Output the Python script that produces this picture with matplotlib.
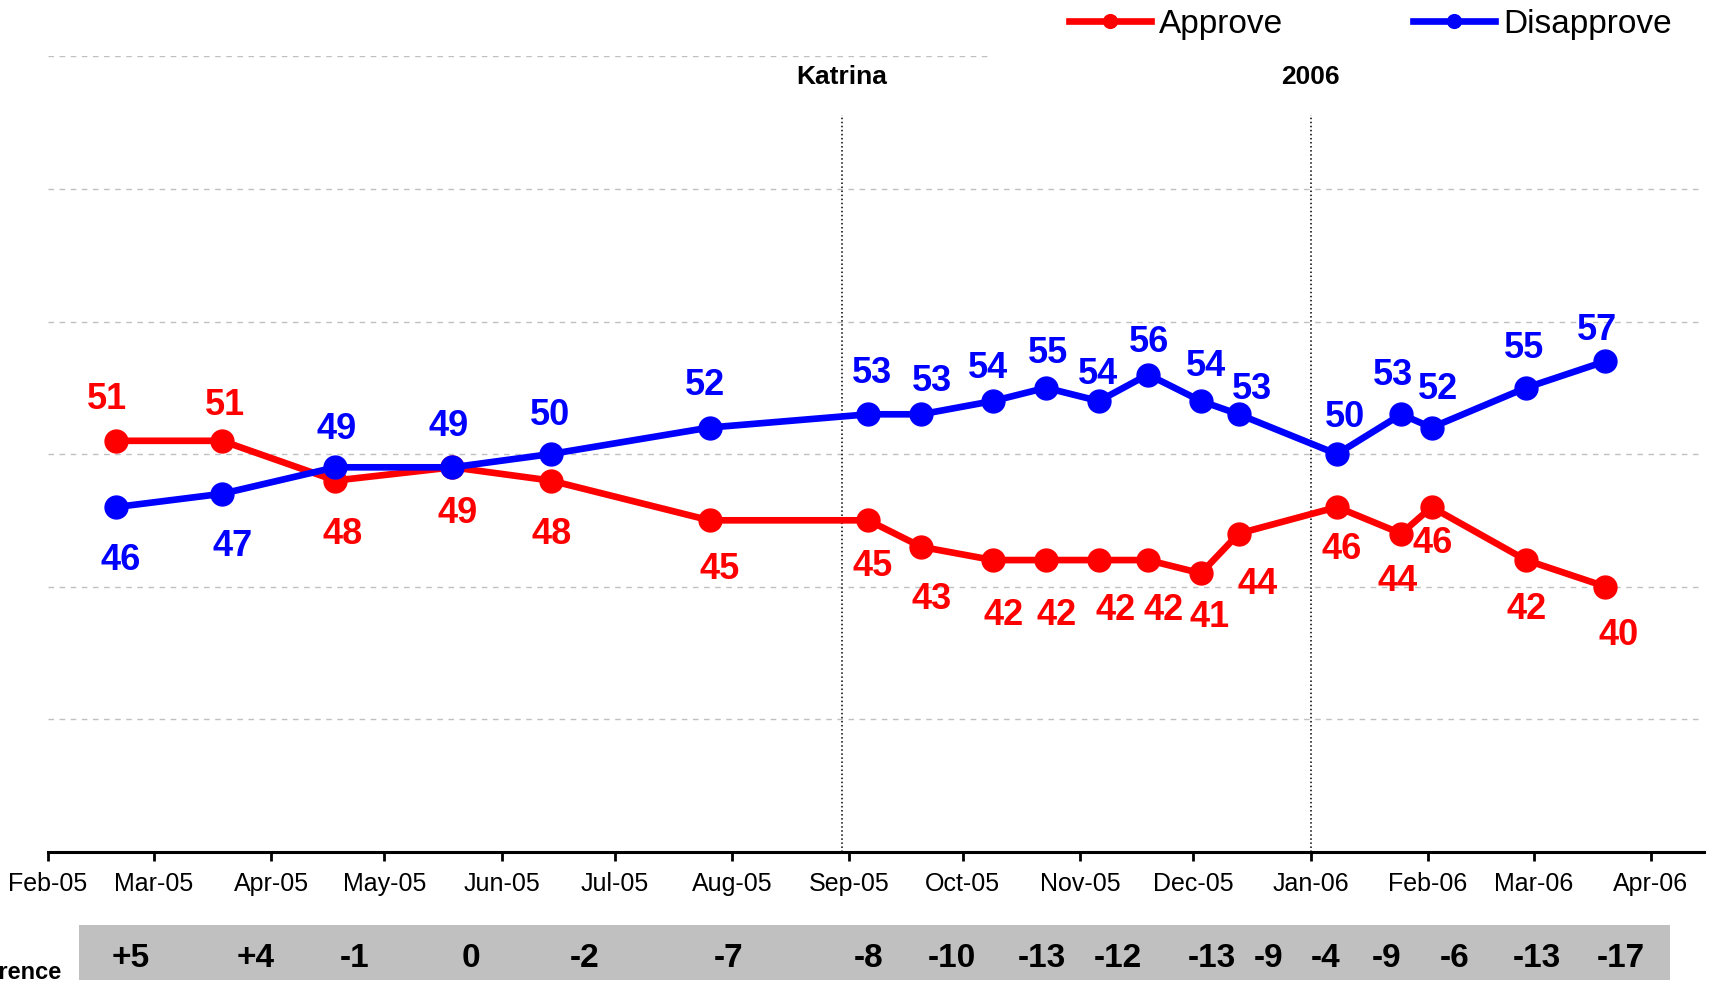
import matplotlib
matplotlib.use("Agg")
import matplotlib.pyplot as plt
import matplotlib.dates as mdates
from matplotlib.patches import Rectangle
from matplotlib.transforms import blended_transform_factory
import pandas as pd

plt.rcParams["font.family"] = ["Liberation Sans", "DejaVu Sans"]

# -------------------------------------------------------------
# Data
# -------------------------------------------------------------

poll_dates = pd.to_datetime([
    "2005-02-19", "2005-03-19", "2005-04-18", "2005-05-19", "2005-06-14",
    "2005-07-26", "2005-09-06", "2005-09-20", "2005-10-09", "2005-10-23",
    "2005-11-06", "2005-11-19", "2005-12-03", "2005-12-13", "2006-01-08",
    "2006-01-25", "2006-02-02", "2006-02-27", "2006-03-20",
])
approve = [51, 51, 48, 49, 48, 45, 45, 43, 42, 42, 42, 42, 41, 44, 46, 44, 46, 42, 40]
disapprove = [46, 47, 49, 49, 50, 52, 53, 53, 54, 55, 54, 56, 54, 53, 50, 53, 52, 55, 57]

diff_labels = ["+5", "+4", "-1", "0", "-2", "-7", "-8", "-10", "-13", "-12",
               "-13", "-9", "-4", "-9", "-6", "-13", "-17"]
diff_dates = pd.to_datetime([
    "2005-02-23", "2005-03-28", "2005-04-23", "2005-05-24", "2005-06-23",
    "2005-07-31", "2005-09-06", "2005-09-28", "2005-10-22", "2005-11-11",
    "2005-12-06", "2005-12-21", "2006-01-05", "2006-01-21", "2006-02-08",
    "2006-03-02", "2006-03-24",
])

event_dates = pd.to_datetime(["2005-08-30", "2006-01-01"])
event_labels = ["Katrina", "2006"]

# label offsets from each point, in pixels (dx right, dy down)
approve_offsets = [(-9, -45), (3, -39), (7, 51), (5, 43), (1, 51), (10, 46),
                   (4, 43), (10, 49), (11, 52), (11, 52), (17, 47), (16, 47),
                   (9, 41), (19, 48), (5, 39), (-4, 45), (1, 33), (1, 46), (13, 46)]
disapprove_offsets = [(5, 50), (11, 49), (1, -41), (-4, -44), (-1, -42), (-4, -45),
                      (4, -44), (11, -36), (-5, -36), (2, -38), (-1, -30), (1, -35),
                      (5, -38), (13, -28), (8, -40), (-8, -42), (7, -41), (-2, -43),
                      (-8, -34)]

RED = "#ff0000"
BLUE = "#0000ff"
DPI = 100
PX = 72 / DPI

fig = plt.figure(figsize=(17.12, 9.86), dpi=DPI)
ax = fig.add_axes([48 / 1712, 0.1363, 0.9671, 0.9427 - 0.1363])

# -------------------------------------------------------------
# Lines
# -------------------------------------------------------------

ax.plot(poll_dates, approve, color=RED, lw=4.8, marker="o", ms=16.5,
        zorder=3, label="Approve")
ax.plot(poll_dates, disapprove, color=BLUE, lw=4.8, marker="o", ms=16.5,
        zorder=4, label="Disapprove")

LABEL_SIZE = 26
half_cap = 0.716 * LABEL_SIZE / 72 * DPI / 2

for series, offsets, color in ((approve, approve_offsets, RED),
                               (disapprove, disapprove_offsets, BLUE)):
    for d, v, (dx, dy) in zip(poll_dates, series, offsets):
        ax.annotate(
            str(v),
            xy=(mdates.date2num(d), v),
            xytext=(dx * PX, -(dy + half_cap) * PX),
            textcoords="offset points",
            ha="center",
            va="baseline",
            fontsize=LABEL_SIZE,
            fontweight="bold",
            color=color,
            zorder=6,
        )

# -------------------------------------------------------------
# Event markers
# -------------------------------------------------------------

for d, text in zip(event_dates, event_labels):
    ax.vlines(d, 20, 75.6, colors="black", linestyles=":", lw=1.1, zorder=2)
    ax.text(d, 77.9, text, ha="center", va="baseline", fontsize=19,
            fontweight="bold")

# -------------------------------------------------------------
# Axes
# -------------------------------------------------------------

ax.set_xlim(pd.Timestamp("2005-02-01"), pd.Timestamp("2006-04-15"))
ax.set_ylim(20, 80)
ax.set_yticks(range(20, 81, 10))
ax.tick_params(axis="y", length=0, labelleft=False)

ax.xaxis.set_major_locator(mdates.MonthLocator())
ax.xaxis.set_major_formatter(mdates.DateFormatter("%b-%y"))
ax.tick_params(axis="x", length=6.5, width=2, pad=8, labelsize=18)

for side in ("left", "top", "right"):
    ax.spines[side].set_visible(False)
ax.spines["bottom"].set_linewidth(2.2)
ax.spines["bottom"].set_zorder(5)

ax.set_axisbelow(True)
ax.yaxis.grid(True, color="#c0c0c0", lw=1.0, linestyle=(0, (4, 4)))
ax.get_ygridlines()[-1].set_visible(False)
ax.axhline(80, xmax=0.57, color="#c0c0c0", lw=1.0, linestyle=(0, (4, 4)), zorder=0)

# -------------------------------------------------------------
# Legend
# -------------------------------------------------------------

fig.legend(
    loc="center right",
    bbox_to_anchor=(1672 / 1712, 1 - 24 / 986),
    ncol=2,
    frameon=False,
    fontsize=24,
    handlelength=2.45,
    handletextpad=0.25,
    columnspacing=3.9,
    borderpad=0,
    borderaxespad=0,
    markerscale=0.6,
)

# -------------------------------------------------------------
# Difference row
# -------------------------------------------------------------

fig.patches.append(Rectangle((79 / 1712, 6 / 986), (1670 - 79) / 1712, 55 / 986,
                             transform=fig.transFigure, facecolor="#c0c0c0",
                             edgecolor="none", zorder=-1))

band = blended_transform_factory(ax.transData, fig.transFigure)
for d, text in zip(diff_dates, diff_labels):
    fig.text(mdates.date2num(d), 0.019, text, transform=band, ha="center",
             va="baseline", fontsize=24, fontweight="bold",
             family=["Liberation Sans Narrow", "Liberation Sans"], zorder=5)

fig.text(62 / 1712, 0.007, "Difference", ha="right", va="baseline",
         fontsize=17, fontweight="bold")

fig.savefig("out.png", dpi=DPI)
